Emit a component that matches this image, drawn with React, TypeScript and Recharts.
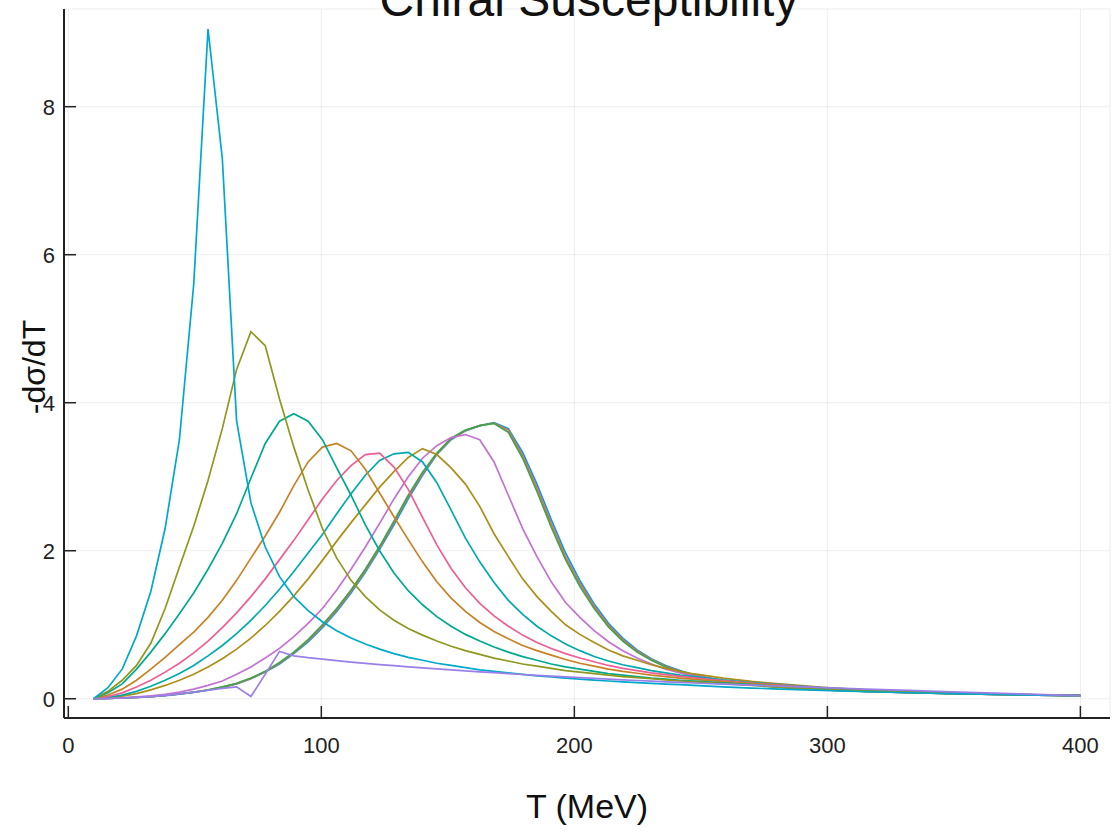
import React from 'react';
import { LineChart, Line, XAxis, YAxis, CartesianGrid } from 'recharts';

const T_VALUES = [10, 15.65, 21.3, 26.96, 32.61, 38.26, 43.91, 49.57, 55.22, 60.87, 66.52, 72.17, 77.83, 83.48, 89.13, 94.78, 100.43, 106.09, 111.74, 117.39, 123.04, 128.7, 134.35, 140, 145.65, 151.3, 156.96, 162.61, 168.26, 173.91, 179.57, 185.22, 190.87, 196.52, 202.17, 207.83, 213.48, 219.13, 224.78, 230.43, 236.09, 241.74, 247.39, 258.7, 270, 281.3, 298.26, 315.22, 332.17, 349.13, 366.09, 383.04, 400];

const Y1 = [0, 0.004, 0.01, 0.017, 0.028, 0.043, 0.062, 0.086, 0.115, 0.153,
  0.2, 0.27, 0.36, 0.47, 0.61, 0.77, 0.96, 1.18, 1.43, 1.71,
  2.02, 2.35, 2.7, 3.02, 3.3, 3.5, 3.62, 3.69, 3.73, 3.65,
  3.33, 2.9, 2.42, 1.97, 1.6, 1.28, 1.02,
  0.82, 0.66, 0.54, 0.45, 0.38, 0.32,
  0.245, 0.193, 0.157, 0.121, 0.1, 0.083, 0.07, 0.059, 0.05, 0.042];
const Y2 = [0, 0.004, 0.01, 0.018, 0.029, 0.044, 0.064, 0.088, 0.118, 0.157,
  0.205, 0.275, 0.365, 0.48, 0.62, 0.785, 0.98, 1.2, 1.45, 1.73,
  2.04, 2.38, 2.73, 3.04, 3.31, 3.51, 3.625, 3.69, 3.725, 3.63,
  3.29, 2.85, 2.37, 1.92, 1.56, 1.25, 0.995,
  0.8, 0.645, 0.53, 0.44, 0.37, 0.315,
  0.243, 0.192, 0.156, 0.121, 0.1, 0.083, 0.07, 0.059, 0.05, 0.042];
const Y3 = [0, 0.004, 0.01, 0.018, 0.03, 0.045, 0.065, 0.09, 0.12, 0.16,
  0.21, 0.28, 0.37, 0.49, 0.63, 0.8, 1.0, 1.22, 1.47, 1.75,
  2.06, 2.4, 2.75, 3.06, 3.32, 3.52, 3.63, 3.69, 3.72, 3.6,
  3.25, 2.8, 2.32, 1.88, 1.52, 1.22, 0.97,
  0.78, 0.63, 0.52, 0.43, 0.36, 0.31,
  0.24, 0.19, 0.155, 0.12, 0.1, 0.083, 0.07, 0.059, 0.05, 0.042];
const Y4 = [0, 0.005, 0.013, 0.025, 0.04, 0.06, 0.09, 0.13, 0.18, 0.24,
  0.33, 0.43, 0.55, 0.68, 0.84, 1.02, 1.22, 1.47, 1.75, 2.05,
  2.37, 2.7, 3.0, 3.25, 3.42, 3.53, 3.57, 3.5, 3.2, 2.75,
  2.3, 1.92, 1.58, 1.3, 1.1, 0.92, 0.77,
  0.65, 0.55, 0.47, 0.4, 0.35, 0.31,
  0.25, 0.2, 0.165, 0.125, 0.102, 0.085, 0.071, 0.06, 0.05, 0.042];
const Y5 = [0, 0.015, 0.035, 0.07, 0.12, 0.18, 0.25, 0.33, 0.43, 0.54,
  0.67, 0.82, 0.99, 1.18, 1.39, 1.62, 1.87, 2.13, 2.38, 2.62,
  2.86, 3.07, 3.26, 3.38, 3.3, 3.12, 2.9, 2.6, 2.23, 1.92,
  1.62, 1.38, 1.18, 1.0, 0.87, 0.76, 0.66,
  0.58, 0.52, 0.46, 0.41, 0.37, 0.335,
  0.28, 0.235, 0.2, 0.155, 0.122, 0.099, 0.081, 0.066, 0.054, 0.044];
const Y6 = [0, 0.02, 0.05, 0.1, 0.17, 0.25, 0.34, 0.45, 0.58, 0.72,
  0.88, 1.06, 1.26, 1.48, 1.72, 1.97, 2.22, 2.5, 2.77, 3.02,
  3.22, 3.31, 3.33, 3.2, 2.92, 2.55, 2.17, 1.85, 1.57, 1.33,
  1.14, 0.98, 0.85, 0.74, 0.65, 0.57, 0.51,
  0.46, 0.42, 0.38, 0.35, 0.32, 0.3,
  0.255, 0.22, 0.19, 0.148, 0.117, 0.096, 0.079, 0.065, 0.053, 0.044];
const Y7 = [0, 0.03, 0.08, 0.16, 0.25, 0.36, 0.48, 0.62, 0.78, 0.96,
  1.16, 1.38, 1.62, 1.88, 2.14, 2.42, 2.7, 2.95, 3.15, 3.3,
  3.32, 3.13, 2.83, 2.45, 2.08, 1.76, 1.5, 1.29, 1.12, 0.98,
  0.86, 0.76, 0.68, 0.61, 0.55, 0.5, 0.45,
  0.41, 0.38, 0.35, 0.325, 0.302, 0.282,
  0.245, 0.212, 0.183, 0.143, 0.114, 0.094, 0.078, 0.064, 0.053, 0.044];
const Y8 = [0, 0.05, 0.13, 0.25, 0.4, 0.56, 0.73, 0.9, 1.1, 1.33,
  1.6, 1.9, 2.2, 2.52, 2.88, 3.2, 3.4, 3.45, 3.35, 3.1,
  2.78, 2.46, 2.15, 1.85, 1.58, 1.36, 1.18, 1.03, 0.91, 0.81,
  0.72, 0.65, 0.59, 0.53, 0.48, 0.44, 0.4,
  0.37, 0.345, 0.32, 0.3, 0.28, 0.262,
  0.232, 0.205, 0.178, 0.14, 0.112, 0.092, 0.076, 0.063, 0.052, 0.043];
const Y9 = [0, 0.08, 0.2, 0.4, 0.63, 0.88, 1.15, 1.43, 1.75, 2.1,
  2.5, 2.98, 3.45, 3.75, 3.85, 3.75, 3.5, 3.12, 2.75, 2.35,
  2.0, 1.7, 1.46, 1.27, 1.11, 0.98, 0.87, 0.78, 0.7, 0.63,
  0.57, 0.52, 0.47, 0.43, 0.4, 0.37, 0.34,
  0.32, 0.3, 0.28, 0.265, 0.25, 0.237,
  0.215, 0.19, 0.165, 0.132, 0.107, 0.088, 0.074, 0.062, 0.051, 0.043];
const Y10 = [0, 0.1, 0.25, 0.45, 0.75, 1.22, 1.78, 2.33, 2.95, 3.65,
  4.45, 4.96, 4.77, 4.05, 3.4, 2.82, 2.3, 1.9, 1.6, 1.38,
  1.2, 1.06, 0.95, 0.86, 0.78, 0.71, 0.65, 0.6, 0.55, 0.51,
  0.47, 0.44, 0.41, 0.38, 0.36, 0.34, 0.32,
  0.3, 0.285, 0.27, 0.255, 0.24, 0.228,
  0.205, 0.18, 0.158, 0.128, 0.104, 0.086, 0.072, 0.06, 0.05, 0.042];
const Y11 = [0, 0.15, 0.4, 0.85, 1.45, 2.3, 3.5, 5.6, 9.05, 7.3,
  3.75, 2.65, 2.05, 1.65, 1.38, 1.19, 1.04, 0.92, 0.82, 0.74,
  0.67, 0.61, 0.56, 0.52, 0.48, 0.45, 0.42, 0.39, 0.37, 0.35,
  0.33, 0.31, 0.295, 0.28, 0.265, 0.252, 0.24,
  0.229, 0.218, 0.208, 0.199, 0.19, 0.182,
  0.16, 0.145, 0.13, 0.112, 0.095, 0.081, 0.069, 0.058, 0.049, 0.042];
const Y12 = [0, 0.004, 0.01, 0.018, 0.03, 0.045, 0.065, 0.09, 0.115, 0.14,
  0.16, 0.03, 0.33, 0.64, 0.58, 0.555, 0.535, 0.515, 0.495, 0.478,
  0.462, 0.447, 0.432, 0.418, 0.404, 0.39, 0.377, 0.364, 0.352, 0.34,
  0.328, 0.317, 0.306, 0.295, 0.285, 0.275, 0.265,
  0.256, 0.247, 0.238, 0.229, 0.221, 0.213,
  0.198, 0.184, 0.17, 0.15, 0.13, 0.112, 0.094, 0.076, 0.058, 0.04];

const SERIES = [Y1, Y2, Y3, Y4, Y5, Y6, Y7, Y8, Y9, Y10, Y11, Y12];
const SERIES_NAMES = ['y1', 'y2', 'y3', 'y4', 'y5', 'y6', 'y7', 'y8', 'y9', 'y10', 'y11', 'y12'];
const COLORS = ['#009AFA', '#E36F47', '#3EA44E', '#C371D2', '#AC8E18', '#00A9AD', '#ED5E93', '#C68225', '#00A98D', '#8E971E', '#00A8CB', '#9B7FE9'];

const X_TICKS = [0, 100, 200, 300, 400];
const Y_TICKS = [0, 2, 4, 6, 8];

const TITLE = 'Chiral Susceptibility';
const X_LABEL = 'T (MeV)';
const Y_LABEL = '-dσ/dT';

const data = T_VALUES.map((t, i) => {
  const row: Record<string, number> = { T: t };
  SERIES.forEach((s, k) => { row[SERIES_NAMES[k]] = s[i]; });
  return row;
});

const FONT = '"Liberation Sans", Arial, Helvetica, sans-serif';
const W = 1115;
const H = 832;

export default function App() {
  return (
    <div style={{ position: 'absolute', left: 0, top: 0, width: W, height: H, background: '#fff' }}>
      <LineChart
        width={W}
        height={H}
        data={data}
        margin={{ top: 9, right: 5, left: 14, bottom: 64 }}
      >
        <CartesianGrid stroke="#000" strokeOpacity={0.07} strokeWidth={1} />
        <XAxis
          dataKey="T"
          type="number"
          domain={[-1.7, 411.7]}
          ticks={X_TICKS}
          allowDataOverflow
          height={50}
          tickSize={-12}
          tickMargin={31}
          axisLine={{ stroke: '#222', strokeWidth: 2 }}
          tickLine={{ stroke: '#222', strokeWidth: 1.5 }}
          tick={{ fill: '#222', fontSize: 22, fontFamily: FONT }}
        />
        <YAxis
          type="number"
          domain={[-0.26, 9.32]}
          ticks={Y_TICKS}
          allowDataOverflow
          width={50}
          tickSize={-12}
          tickMargin={21}
          axisLine={{ stroke: '#222', strokeWidth: 2 }}
          tickLine={{ stroke: '#222', strokeWidth: 1.5 }}
          tick={{ fill: '#222', fontSize: 22, fontFamily: FONT }}
        />
        {SERIES_NAMES.map((name, k) => (
          <Line
            key={name}
            dataKey={name}
            type="linear"
            stroke={COLORS[k]}
            strokeWidth={1.7}
            dot={false}
            isAnimationActive={false}
          />
        ))}
      </LineChart>
      <svg width={W} height={H} style={{ position: 'absolute', left: 0, top: 0, pointerEvents: 'none' }}>
        <text x={589} y={16} textAnchor="middle" fontSize={48} fontFamily={FONT} fill="#111">{TITLE}</text>
        <text x={587} y={818} textAnchor="middle" fontSize={34} fontFamily={FONT} fill="#111">{X_LABEL}</text>
        <text x={0} y={0} transform="translate(45,367) rotate(-90)" textAnchor="middle" fontSize={32} fontFamily={FONT} fill="#111">{Y_LABEL}</text>
      </svg>
    </div>
  );
}
